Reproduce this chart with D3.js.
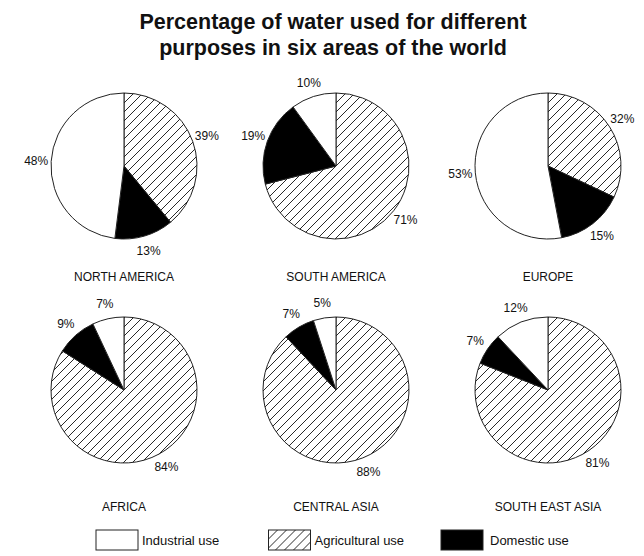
<!DOCTYPE html>
<html><head><meta charset="utf-8">
<script src="https://cdn.jsdelivr.net/npm/d3@7"></script>
<style>body{margin:0;background:#fff}svg{display:block}</style>
</head><body>
<script>
const regions = ["NORTH AMERICA","SOUTH AMERICA","EUROPE","AFRICA","CENTRAL ASIA","SOUTH EAST ASIA"];
const categories = ["Agricultural use","Domestic use","Industrial use"];
const agricultural = [39,71,32,84,88,81];
const domestic = [13,19,15,9,7,7];
const industrial = [48,10,53,7,5,12];
const legendOrder = ["Industrial use","Agricultural use","Domestic use"];
const titleLines = ["Percentage of water used for different","purposes in six areas of the world"];

const W=644,H=556;
const svg=d3.select("body").append("svg").attr("width",W).attr("height",H);
const defs=svg.append("defs");
const S=9;
const pat=defs.append("pattern").attr("id","hatch").attr("patternUnits","userSpaceOnUse")
  .attr("width",S).attr("height",S);
pat.append("rect").attr("width",S).attr("height",S).attr("fill","#fff");
pat.append("path").attr("d",`M-2,2 l4,-4 M0,${S} l${S},-${S} M${S-2},${S+2} l4,-4`).attr("stroke","#111").attr("stroke-width",0.9);

const fills={"Agricultural use":"url(#hatch)","Domestic use":"#000","Industrial use":"#fff"};

svg.selectAll("text.title").data(titleLines).join("text").attr("class","title")
  .attr("x",333).attr("y",(d,i)=>29+i*26).attr("text-anchor","middle")
  .attr("font-family","Liberation Sans, Arial, sans-serif").attr("font-weight","bold")
  .attr("font-size",21.5).attr("fill","#111").text(d=>d);

const col=d3.scalePoint().domain([0,1,2]).range([124,548]);
const row=d3.scalePoint().domain([0,1]).range([166,390]);
const R=73;
const pie=d3.pie().sort(null).value(d=>d.v).startAngle(0).endAngle(2*Math.PI);
const arc=d3.arc().innerRadius(0).outerRadius(R);
const labelArc=d3.arc().innerRadius(R+15).outerRadius(R+15);

regions.forEach((name,i)=>{
  const r=Math.floor(i/3);
  const cx=col(i%3), cy=row(r);
  const data=[{c:categories[0],v:agricultural[i]},{c:categories[1],v:domestic[i]},{c:categories[2],v:industrial[i]}];
  const g=svg.append("g").attr("transform",`translate(${cx},${cy})`);
  const arcs=pie(data);
  g.selectAll("path").data(arcs).join("path").attr("d",arc)
    .attr("fill",d=>fills[d.data.c]).attr("stroke","#222").attr("stroke-width",1);
  g.selectAll("text").data(arcs).join("text")
    .attr("transform",d=>`translate(${labelArc.centroid(d)})`)
    .attr("text-anchor","middle").attr("dy","0.35em")
    .attr("font-family","Liberation Sans, Arial, sans-serif").attr("font-size",12).attr("fill","#111")
    .text(d=>d.data.v+"%");
  svg.append("text").attr("x",cx).attr("y",cy+(r===0?115:121)).attr("text-anchor","middle")
    .attr("font-family","Liberation Sans, Arial, sans-serif").attr("font-size",12).attr("fill","#111")
    .text(name);
});

const lx=d3.scalePoint().domain(legendOrder).range([96,441]);
const lg=svg.selectAll("g.leg").data(legendOrder).join("g").attr("class","leg")
  .attr("transform",d=>`translate(${lx(d)},530)`);
lg.append("rect").attr("width",42).attr("height",20).attr("fill",d=>fills[d]).attr("stroke","#222").attr("stroke-width",1);
lg.append("text").attr("x",d=>d==="Domestic use"?49:46).attr("y",15)
  .attr("font-family","Liberation Sans, Arial, sans-serif").attr("font-size",13).attr("fill","#111").text(d=>d);
</script>
</body></html>
